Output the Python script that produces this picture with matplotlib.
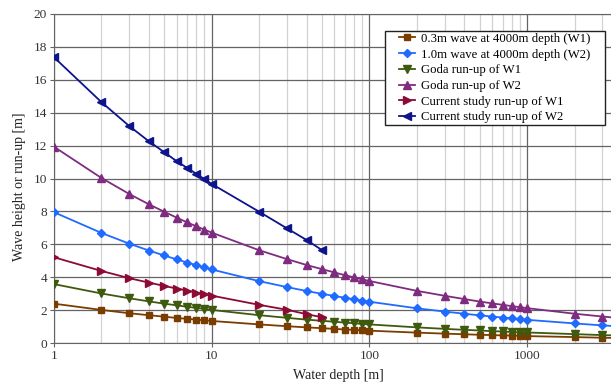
import matplotlib
matplotlib.use("Agg")
import matplotlib.pyplot as plt
from matplotlib.path import Path
from matplotlib.ticker import LogLocator, NullFormatter, FixedLocator

depth = [1, 2, 3, 4, 5, 6, 7, 8, 9, 10,
         20, 30, 40, 50, 60, 70, 80, 90, 100,
         200, 300, 400, 500, 600, 700, 800, 900, 1000,
         2000, 3000, 4000]

w1_wave = [2.39, 2.01, 1.81, 1.69, 1.60, 1.52, 1.47, 1.42, 1.38, 1.34,
           1.13, 1.02, 0.95, 0.90, 0.86, 0.82, 0.80, 0.77, 0.75,
           0.63, 0.57, 0.53, 0.50, 0.48, 0.46, 0.45, 0.44, 0.42,
           0.36, 0.32, 0.30]
w2_wave = [7.95, 6.69, 6.04, 5.62, 5.32, 5.08, 4.89, 4.73, 4.59, 4.47,
           3.76, 3.40, 3.16, 2.99, 2.86, 2.75, 2.66, 2.58, 2.51,
           2.11, 1.91, 1.78, 1.68, 1.61, 1.55, 1.50, 1.45, 1.41,
           1.19, 1.07, 1.00]
goda_w1 = [3.58, 3.01, 2.72, 2.53, 2.39, 2.29, 2.20, 2.13, 2.07, 2.01,
           1.69, 1.53, 1.42, 1.35, 1.29, 1.24, 1.20, 1.16, 1.13,
           0.95, 0.86, 0.80, 0.76, 0.72, 0.70, 0.67, 0.65, 0.64,
           0.54, 0.48, 0.45]
goda_w2 = [11.93, 10.03, 9.06, 8.43, 7.98, 7.62, 7.33, 7.09, 6.89, 6.71,
           5.64, 5.10, 4.74, 4.49, 4.29, 4.12, 3.99, 3.87, 3.77,
           3.17, 2.87, 2.67, 2.52, 2.41, 2.32, 2.24, 2.18, 2.12,
           1.78, 1.61, 1.50]

depth_cs = [1, 2, 3, 4, 5, 6, 7, 8, 9, 10, 20, 30, 40, 50]
cs_w1 = [5.21, 4.38, 3.94, 3.67, 3.47, 3.31, 3.19, 3.06, 2.98, 2.88,
         2.32, 2.02, 1.75, 1.57]
cs_w2 = [17.37, 14.64, 13.19, 12.26, 11.60, 11.05, 10.64, 10.28, 9.96, 9.67,
         7.98, 6.97, 6.26, 5.65]

labels = ["0.3m wave at 4000m depth (W1)", "1.0m wave at 4000m depth (W2)",
          "Goda run-up of W1", "Goda run-up of W2",
          "Current study run-up of W1", "Current study run-up of W2"]

plt.rcParams['font.family'] = ['Liberation Serif', 'DejaVu Serif']

W, H = 611, 386
fig = plt.figure(figsize=(W / 100, H / 100), dpi=100)
left, right, bottom, top = 54, 622, 343, 14
ax = fig.add_axes([left / W, 1 - bottom / H, (right - left) / W, (bottom - top) / H])

series = [
    (depth, w1_wave, '#7a3d00', 's', 5.0),
    (depth, w2_wave, '#1f6bff', 'D', 4.0),
    (depth, goda_w1, '#3e5a0e', 'v', 5.5),
    (depth, goda_w2, '#7f2c80', '^', 5.5),
    (depth_cs, cs_w1, '#8c0a33', '>', 5.5),
    (depth_cs, cs_w2, '#0d148c', '<', 5.5),
]
for (x, y, c, m, ms), lab in zip(series, labels):
    ax.plot(x, y, color=c, marker=m, markersize=ms, linewidth=1.3,
            label=lab, zorder=3)

ax.set_xscale('log')
ax.set_xlim(1, 4000)
ax.set_ylim(0, 20)
ax.set_yticks(range(0, 21, 2))
ax.xaxis.set_major_locator(FixedLocator([1, 10, 100, 1000]))
ax.xaxis.set_minor_locator(LogLocator(base=10, subs=range(2, 10), numticks=20))
ax.xaxis.set_minor_formatter(NullFormatter())
ax.set_xticklabels(['1', '10', '100', '1000'])

ax.grid(True, which='major', axis='both', color='#646464', linewidth=0.9)
ax.grid(True, which='minor', axis='x', color='#d2d2d2', linewidth=0.9)
ax.set_axisbelow(True)

for s in ['left', 'bottom', 'top']:
    ax.spines[s].set_color('#646464')
ax.spines['right'].set_visible(False)

ax.tick_params(axis='both', which='major', length=3, color='#646464',
               labelsize=9.6, labelcolor='#333333', pad=2)
ax.tick_params(axis='x', which='minor', length=0)

ax.set_xlabel('Water depth [m]', fontsize=10, color='#222222', labelpad=5)
ax.set_ylabel('Wave height or run-up [m]', fontsize=10, color='#222222')
ax.yaxis.set_label_coords((26 - left) / (right - left), (bottom - 187) / (bottom - top))

leg = ax.legend(loc='upper left',
                bbox_to_anchor=((397 - left) / (right - left), 1 - (31 - top) / (bottom - top)),
                fontsize=9.2, frameon=True, fancybox=False, framealpha=1,
                edgecolor='#222222', handlelength=1.25, handletextpad=0.5,
                labelspacing=0.29, borderpad=0.15, borderaxespad=0)
leg.get_frame().set_linewidth(1.0)


def hpad_box(x0, y0, width, height, mutation_size):
    px = 0.95 * mutation_size
    return Path([(x0 - px, y0), (x0 + width + px, y0),
                 (x0 + width + px, y0 + height), (x0 - px, y0 + height),
                 (x0 - px, y0)], closed=True)


leg.get_frame().set_boxstyle(hpad_box)

fig.savefig('out.png', dpi=100)
